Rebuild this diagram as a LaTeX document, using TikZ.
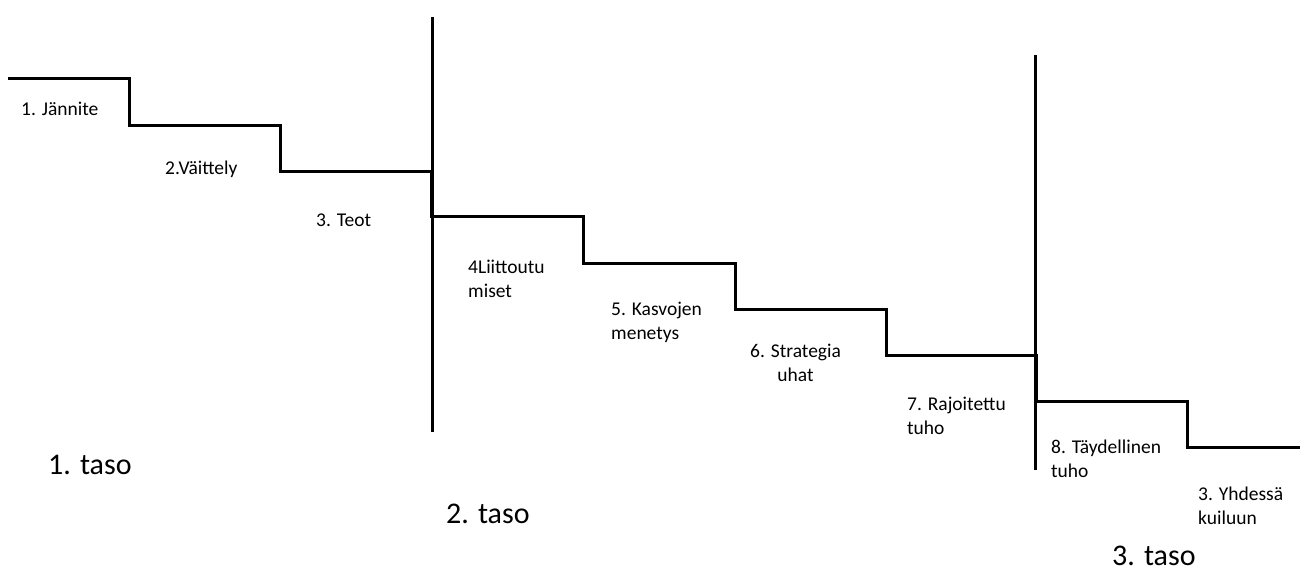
\documentclass[tikz,border=0pt]{standalone}
\usepackage{fontspec}
\setmainfont{Carlito}
\begin{document}
\begin{tikzpicture}[x=1pt,y=-1pt,
  stair/.style={line width=3pt,line cap=butt,line join=miter},
  divider/.style={line width=3pt},
  stagelabel/.style={anchor=north west,inner sep=0pt,align=left,
    font=\fontsize{19.5pt}{24pt}\selectfont},
  levellabel/.style={anchor=north west,inner sep=0pt,
    font=\fontsize{30pt}{36pt}\selectfont}]
\useasboundingbox (0,0) rectangle (1300,573);

% descending staircase of escalation stages
\draw[stair] (8,78) -- (129,78) -- (129,125) -- (280,125) -- (280,171)
  -- (431,171) -- (431,216) -- (583,216) -- (583,263) -- (735,263)
  -- (735,309) -- (886,309) -- (886,355) -- (1036,355) -- (1036,401)
  -- (1187,401) -- (1187,447) -- (1300,447);

% dividers between the three levels
\coordinate (d1top) at (432,17);
\coordinate (d1bot) at (432,432);
\coordinate (d2top) at (1035,55);
\coordinate (d2bot) at (1035,470);
\draw[divider] (d1top) -- (d1bot);
\draw[divider] (d2top) -- (d2bot);

% stage labels
\node[stagelabel] (s1) at (21,102) {1. Jännite};
\node[stagelabel] (s2) at (165,161) {2.Väittely};
\node[stagelabel] (s3) at (316,214) {3. Teot};
\node[stagelabel] (s4) at (468,260) {4Liittoutu\\miset};
\node[stagelabel] (s5) at (611,302) {5. Kasvojen\\menetys};
\node[stagelabel,align=center] (s6) at (750,344) {6. Strategia\\uhat};
\node[stagelabel] (s7) at (907,397) {7. Rajoitettu\\tuho};
\node[stagelabel] (s8) at (1051,440) {8. Täydellinen\\tuho};
\node[stagelabel] (s9) at (1198,487) {3. Yhdessä\\kuiluun};

% level labels
\node[levellabel] (t1) at (48,455) {1. taso};
\node[levellabel] (t2) at (446,504) {2. taso};
\node[levellabel] (t3) at (1112,546) {3. taso};
\end{tikzpicture}
\end{document}
